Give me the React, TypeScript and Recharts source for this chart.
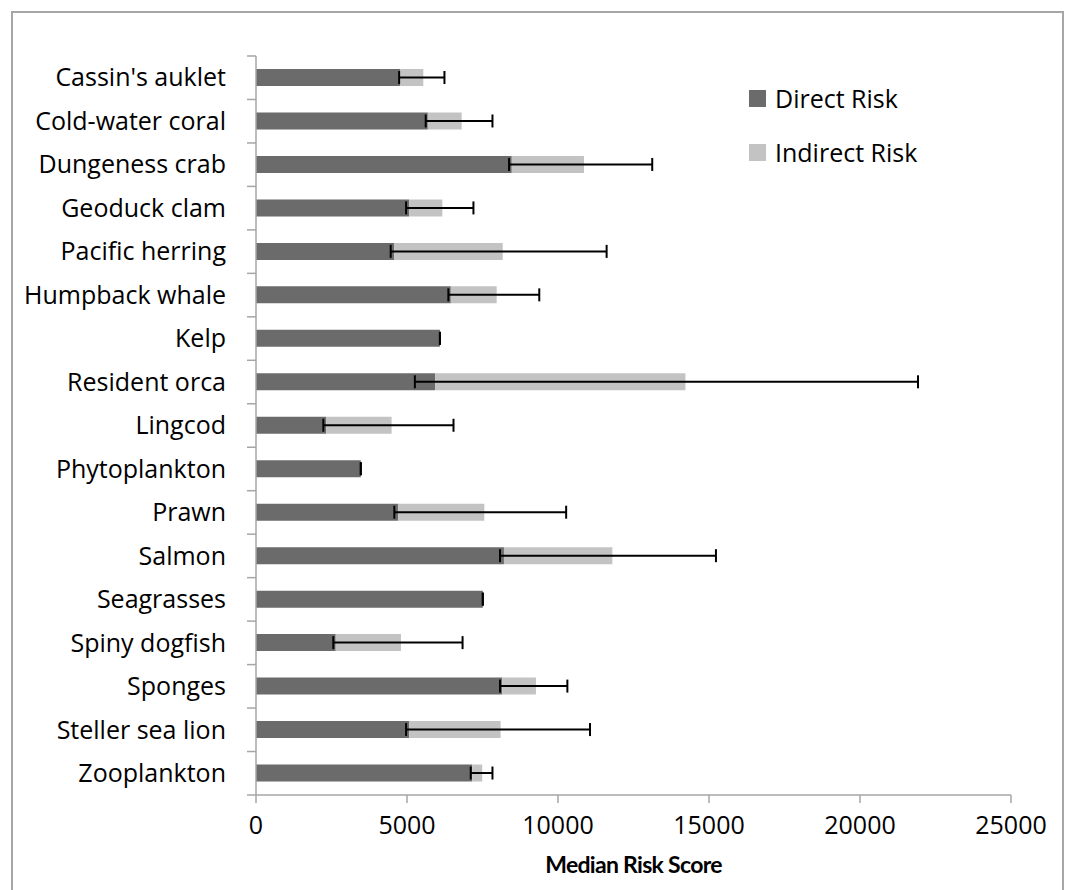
import React from "react";
import { BarChart, Bar, XAxis, YAxis, ErrorBar } from "recharts";

const categories = [
  "Cassin's auklet",
  "Cold-water coral",
  "Dungeness crab",
  "Geoduck clam",
  "Pacific herring",
  "Humpback whale",
  "Kelp",
  "Resident orca",
  "Lingcod",
  "Phytoplankton",
  "Prawn",
  "Salmon",
  "Seagrasses",
  "Spiny dogfish",
  "Sponges",
  "Steller sea lion",
  "Zooplankton",
];

const directRisk = [4770, 5690, 8470, 5070, 4580, 6450, 6090, 5930, 2320, 3470, 4710, 8210, 7510, 2640, 8150, 5070, 7160];
const indirectRisk = [770, 1120, 2390, 1100, 3590, 1520, 0, 8290, 2170, 0, 2850, 3590, 0, 2160, 1120, 3030, 330];
// ends of the error bars (absolute scores)
const errorLow = [4740, 5620, 8380, 4970, 4460, 6370, 6090, 5260, 2230, 3470, 4580, 8080, 7510, 2560, 8080, 4970, 7110];
const errorHigh = [6240, 7830, 13120, 7200, 11610, 9380, 6090, 21920, 6540, 3470, 10270, 15230, 7510, 6840, 10310, 11060, 7830];

const xTicks = [0, 5000, 10000, 15000, 20000, 25000];

const legendItems = [
  { label: "Direct Risk", color: "#6b6b6b" },
  { label: "Indirect Risk", color: "#c3c3c3" },
];

const DARK = "#6b6b6b";
const LIGHT = "#c3c3c3";
const AXIS_GRAY = "#a6a6a6";
const FONT = "'Open Sans', Lato, sans-serif";
const FONT_SIZE = 25;
const LABEL_GAP = 30;

const data = categories.map((name, i) => ({
  name,
  direct: directRisk[i],
  indirect: indirectRisk[i],
  err: [directRisk[i] - errorLow[i], errorHigh[i] - directRisk[i]],
}));

const CategoryTick = (props: any) => {
  const { x, y, payload, index } = props;
  const axisX = x + LABEL_GAP;
  const half = payload.offset ?? 0;
  return (
    <g>
      <line x1={axisX - 9} x2={axisX} y1={y - half} y2={y - half} stroke={AXIS_GRAY} strokeWidth={1.5} />
      {index === categories.length - 1 && (
        <line x1={axisX - 9} x2={axisX} y1={y + half} y2={y + half} stroke={AXIS_GRAY} strokeWidth={1.5} />
      )}
      <text x={x} y={y} dy="0.35em" textAnchor="end" fill="#000" fontSize={FONT_SIZE} fontFamily={FONT}>
        {payload.value}
      </text>
    </g>
  );
};

export default function App() {
  return (
    <div style={{ position: "absolute", left: 0, top: 0, width: 1068, height: 890, background: "#fff" }}>
      <div
        style={{
          position: "absolute",
          left: 11,
          top: 11,
          width: 1053,
          height: 900,
          border: `2px solid ${AXIS_GRAY}`,
          boxSizing: "border-box",
        }}
      />
      <div style={{ position: "absolute", left: 0, top: 0 }}>
        <BarChart
          width={1068}
          height={890}
          data={data}
          layout="vertical"
          margin={{ top: 56, right: 57, bottom: 0, left: 0 }}
          barSize={17}
        >
          <XAxis
            type="number"
            domain={[0, 25000]}
            ticks={xTicks}
            interval={0}
            height={95}
            axisLine={{ stroke: AXIS_GRAY, strokeWidth: 1.5 }}
            tickLine={{ stroke: AXIS_GRAY, strokeWidth: 1.5 }}
            tickSize={8}
            tickMargin={13}
            tick={{ fill: "#000", fontSize: FONT_SIZE, fontFamily: FONT }}
            label={{
              value: "Median Risk Score",
              position: "insideBottom",
              offset: 17,
              fill: "#000",
              fontSize: 23,
              fontWeight: "bold",
              fontFamily: "Lato, sans-serif",
              letterSpacing: -0.7,
            }}
          />
          <YAxis
            type="category"
            dataKey="name"
            width={256}
            interval={0}
            axisLine={{ stroke: AXIS_GRAY, strokeWidth: 1.5 }}
            tickLine={false}
            tickSize={0}
            tickMargin={LABEL_GAP}
            tick={<CategoryTick />}
          />
          <Bar dataKey="direct" stackId="risk" fill={DARK} name="Direct Risk" isAnimationActive={false}>
            <ErrorBar dataKey="err" direction="x" width={6.5} stroke="#000" strokeWidth={2} />
          </Bar>
          <Bar dataKey="indirect" stackId="risk" fill={LIGHT} name="Indirect Risk" isAnimationActive={false} />
        </BarChart>
      </div>
      <div
        style={{
          position: "absolute",
          left: 749,
          top: 71,
          fontFamily: FONT,
          fontSize: FONT_SIZE,
          color: "#000",
        }}
      >
        {legendItems.map((item) => (
          <div key={item.label} style={{ display: "flex", alignItems: "center", height: 54 }}>
            <span
              style={{ width: 17, height: 17, background: item.color, marginRight: 9, display: "inline-block" }}
            />
            {item.label}
          </div>
        ))}
      </div>
    </div>
  );
}
